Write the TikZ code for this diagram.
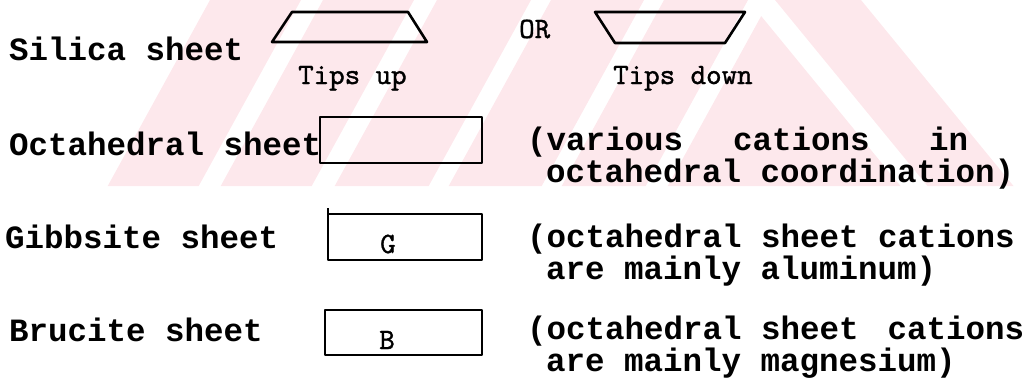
\documentclass[tikz,border=0pt]{standalone}
\usepackage{fontspec}
\newfontfamily\typedfont{Liberation Mono}
\newfontfamily\notefont{lmmono10-regular.otf}[FakeBold=1.2]
\definecolor{wmpink}{RGB}{253,232,236}
\tikzset{
  labeltext/.style={anchor=base west, inner sep=0pt, font=\typedfont\bfseries\fontsize{32.5}{36}\selectfont},
  notetext/.style={anchor=base west, inner sep=0pt, font=\notefont\fontsize{29.5}{32}\selectfont},
  lettertext/.style={inner sep=0pt, font=\notefont\fontsize{29.5}{32}\selectfont},
  sheetline/.style={draw=black, line width=2.6pt, line join=round},
  wm/.style={fill=wmpink, draw=none}
}
\begin{document}
\begin{tikzpicture}[x=1pt, y=-1pt]
\useasboundingbox (0,0) rectangle (1032,381);

% faint striped emblem in the background
\begin{scope}
  \clip (0,0) rectangle (1032,186);
  \begin{scope}
    \clip (0,0) -- (748,0) -- (900.5,186) -- (0,186) -- cycle;
    \foreach \a/\b in {210/301, 323/414, 437/531, 551/644, 664/748, 770/1200}{
      \fill[wm] (\a,0) -- (\b,0) -- ({\b-102.3},186) -- ({\a-102.3},186) -- cycle;
    }
  \end{scope}
  \fill[wm] (775,0) -- (861,0) -- (1013.5,186) -- (927.5,186) -- cycle;
\end{scope}

% silica sheet symbols
\node[labeltext] (sil) at (9,60) {Silica sheet};
\draw[sheetline] (292,12) -- (408,12) -- (427,42) -- (272,42) -- cycle;
\node[notetext] (tup) at (298,84) {Tips up};
\node[notetext] (or) at (519,38) {OR};
\draw[sheetline] (595,12) -- (745,12) -- (725,43) -- (615,43) -- cycle;
\node[notetext] (tdown) at (613,84) {Tips down};

% octahedral sheet
\node[labeltext] (oct) at (9,155) {Octahedral sheet};
\draw[sheetline] (320,117) rectangle (482,163);
\node[labeltext] (octa) at (527,150) {(various};
\node[labeltext] (octb) at (733,150) {cations};
\node[labeltext] (octc) at (929,150) {in};
\node[labeltext] (octd) at (546,182) {octahedral coordination)};

% gibbsite sheet
\node[labeltext] (gib) at (5,248) {Gibbsite sheet};
\draw[sheetline] (328,214) rectangle (482,260);
\draw[sheetline] (328,214) -- (328,208);
\node[lettertext] (gl) at (388,244) {G};
\node[labeltext] (giba) at (527,247) {(octahedral sheet cations};
\node[labeltext] (gibb) at (546,279) {are mainly aluminum)};

% brucite sheet
\node[labeltext] (bru) at (9,341) {Brucite sheet};
\draw[sheetline] (325,310) rectangle (482,355);
\node[lettertext] (bl) at (387,340) {B};
\node[labeltext] (brua) at (527,339) {(octahedral sheet\hspace{29pt}cations};
\node[labeltext] (brub) at (546,371) {are mainly magnesium)};
\end{tikzpicture}
\end{document}
